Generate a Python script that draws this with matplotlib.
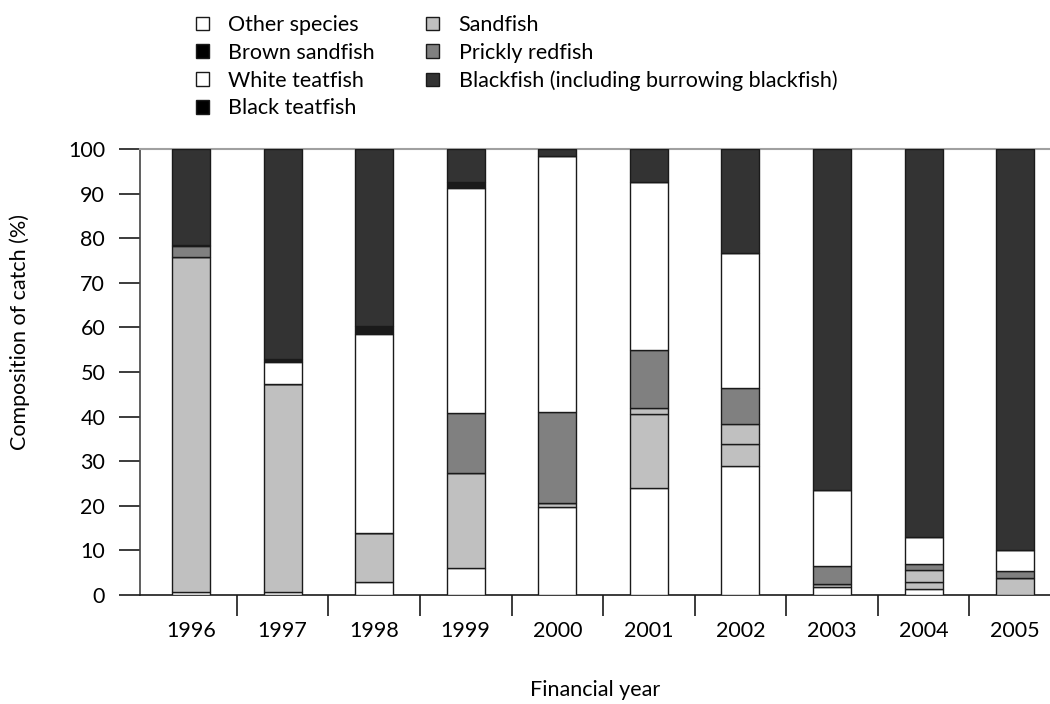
import matplotlib.pyplot as plt
from matplotlib.patches import Patch
import numpy as np

plt.rcParams['font.family'] = ['Lato', 'DejaVu Sans']

years = ['1996', '1997', '1998', '1999', '2000', '2001', '2002', '2003', '2004', '2005']

# stacked bottom -> top, % of catch
other_species = [0.7, 0.7, 3.0, 6.1, 19.7, 23.9, 28.9, 1.7, 1.4, 0.0]
sandfish = [75.1, 46.6, 10.9, 21.3, 1.0, 16.6, 4.9, 0.8, 1.6, 3.9]
brown_sandfish = [0.0, 0.0, 0.0, 0.0, 0.0, 1.4, 4.5, 0.0, 2.7, 0.0]
prickly_redfish = [2.4, 0.0, 0.0, 13.5, 20.3, 13.0, 8.2, 4.1, 1.3, 1.4]
white_teatfish = [0.3, 4.9, 44.7, 50.3, 57.5, 37.6, 30.1, 16.9, 6.0, 4.9]
black_teatfish = [0.0, 0.8, 1.8, 1.3, 0.0, 0.0, 0.0, 0.0, 0.0, 0.0]
blackfish = [21.5, 47.0, 39.6, 7.5, 1.5, 7.5, 23.4, 76.5, 87.0, 89.8]

stack = [other_species, sandfish, brown_sandfish, prickly_redfish,
         white_teatfish, black_teatfish, blackfish]
colors = ['#ffffff', '#c0c0c0', '#c0c0c0', '#808080', '#ffffff', '#1a1a1a', '#333333']

fig = plt.figure(figsize=(10.5, 7.04), dpi=100)
ax = fig.add_axes([0.1333, 0.1548, 0.8667, 0.6335])

x = np.arange(len(years))
bottom = np.zeros(len(years))
for vals, c in zip(stack, colors):
    ax.bar(x, vals, 0.415, bottom=bottom, color=c, edgecolor='#1a1a1a', linewidth=1.0, zorder=3)
    bottom += np.array(vals)

ax.set_xlim(-0.557, 9.38)
ax.set_ylim(0, 100)
ax.set_yticks(range(0, 101, 10))
ax.set_xticks(x)
ax.set_xticklabels(years)
ax.set_xticks(np.arange(0.5, 9, 1), minor=True)
ax.tick_params(axis='x', which='major', length=0, pad=19, labelsize=15.5)
ax.tick_params(axis='x', which='minor', length=15, width=1.2, color='#1a1a1a')
ax.tick_params(axis='y', length=15, width=1.2, pad=10, labelsize=15.5, color='#1a1a1a')

ax.spines['right'].set_visible(False)
ax.spines['top'].set_color('#a0a0a0')
ax.spines['top'].set_linewidth(1.5)
ax.spines['left'].set_color('#444444')
ax.spines['left'].set_linewidth(1.2)
ax.spines['bottom'].set_color('#1a1a1a')
ax.spines['bottom'].set_linewidth(1.2)

fig.text(0.567, 0.02, 'Financial year', ha='center', va='center', fontsize=15.5)
fig.text(0.019, 0.528, 'Composition of catch (%)', ha='center', va='center',
         rotation=90, fontsize=15.5)

# legend swatches as printed in the key
labels = ['Other species', 'Brown sandfish', 'White teatfish', 'Black teatfish',
          'Sandfish', 'Prickly redfish', 'Blackfish (including burrowing blackfish)']
swatches = ['#ffffff', '#000000', '#ffffff', '#000000', '#c0c0c0', '#808080', '#333333']
handles = [Patch(facecolor=c, edgecolor='#1a1a1a', linewidth=1.0) for c in swatches]
fig.legend(handles, labels, ncol=2, loc='upper left', bbox_to_anchor=(0.172, 1.0),
           frameon=False, fontsize=15.5, handlelength=0.6, handleheight=0.6,
           handletextpad=0.9, labelspacing=0.36, columnspacing=2.4, borderpad=0.2)

fig.savefig('out.png', dpi=100)
